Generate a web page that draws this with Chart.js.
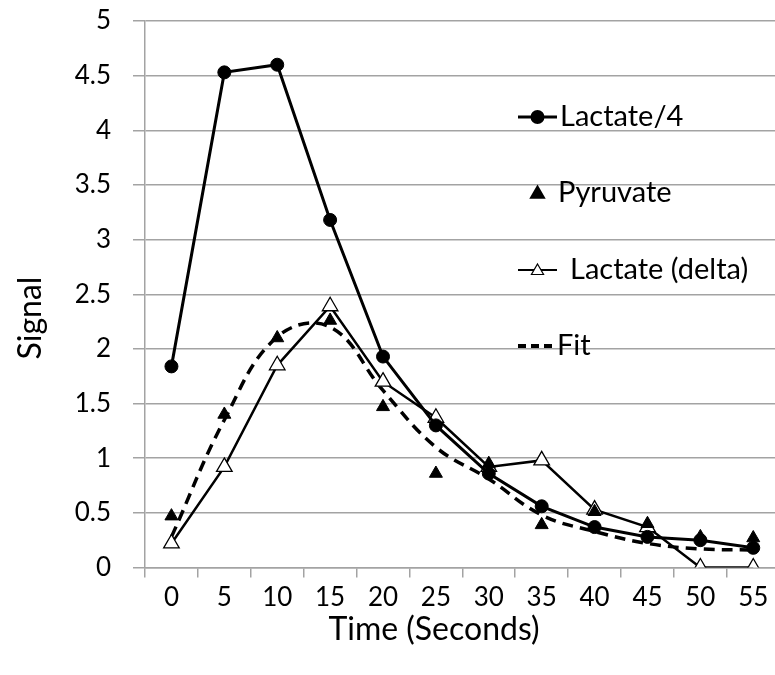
<!DOCTYPE html>
<html><head><meta charset="utf-8">
<script src="https://cdn.jsdelivr.net/npm/chart.js@4.4.1/dist/chart.umd.min.js"></script>
<style>
html,body{margin:0;padding:0;overflow:hidden;background:#fff;width:775px;height:675px}
#wrap{position:absolute;left:0;top:0;width:790px;height:675px}
</style></head><body>
<div id="wrap"><canvas id="c" width="790" height="675"></canvas></div>
<script>
const categories = ['0','5','10','15','20','25','30','35','40','45','50','55'];
const lactateQuarter = [1.84,4.53,4.60,3.18,1.93,1.30,0.86,0.56,0.37,0.28,0.25,0.18];
const pyruvate = [0.47,1.40,2.10,2.26,1.47,0.86,0.95,0.39,0.51,0.40,0.28,0.27];
const lactateDelta = [0.22,0.92,1.85,2.39,1.70,1.37,0.92,0.98,0.53,0.37,0,0];
const fit = [0.28,1.35,2.11,2.20,1.62,1.10,0.81,0.48,0.33,0.22,0.17,0.16];
const yTicks = [0,0.5,1,1.5,2,2.5,3,3.5,4,4.5,5];
const seriesNames = ['Lactate/4','Pyruvate','Lactate (delta)','Fit'];
const xTitle = 'Time (Seconds)';
const yTitle = 'Signal';

const FONT = 'Lato';
const GRID = '#a3a3a3';

const overlay = {
  id: 'overlay',
  afterDraw(chart) {
    const ctx = chart.ctx;
    const H = Chart.helpers;
    ctx.save();
    ctx.fillStyle = '#000';
    ctx.strokeStyle = '#000';
    ctx.textBaseline = 'middle';
    // axis titles
    ctx.font = '32px ' + FONT;
    ctx.textAlign = 'center';
    ctx.fillText(xTitle, 434, 630);
    ctx.save();
    ctx.translate(31, 318);
    ctx.rotate(-Math.PI / 2);
    ctx.fillText(yTitle, 0, 0);
    ctx.restore();

    // legend
    ctx.font = '29px ' + FONT;
    ctx.textAlign = 'left';
    const x0 = 518, x1 = 557, xm = 537.5;
    const ys = [117, 193, 270, 346];
    // Lactate/4
    ctx.lineWidth = 3; ctx.setLineDash([]);
    ctx.beginPath(); ctx.moveTo(x0, ys[0]); ctx.lineTo(x1, ys[0]); ctx.stroke();
    ctx.fillStyle = '#000';
    H.drawPoint(ctx, {pointStyle: 'circle', radius: 5.5, rotation: 0, borderWidth: 1}, xm, ys[0]);
    ctx.fillText(seriesNames[0], 560, ys[0]);
    // Pyruvate
    ctx.fillStyle = '#000';
    H.drawPoint(ctx, {pointStyle: 'triangle', radius: 6.5, rotation: 0, borderWidth: 1}, xm, ys[1] + 1);
    ctx.fillText(seriesNames[1], 558, ys[1]);
    // Lactate (delta)
    ctx.lineWidth = 2;
    ctx.beginPath(); ctx.moveTo(x0, ys[2]); ctx.lineTo(x1, ys[2]); ctx.stroke();
    ctx.fillStyle = '#fff'; ctx.lineWidth = 1.2;
    H.drawPoint(ctx, {pointStyle: 'triangle', radius: 7, rotation: 0, borderWidth: 1.2}, xm, ys[2] + 1);
    ctx.fillStyle = '#000';
    ctx.fillText(seriesNames[2], 570, ys[2]);
    // Fit
    ctx.lineWidth = 4; ctx.setLineDash([8, 5]);
    ctx.beginPath(); ctx.moveTo(x0, ys[3]); ctx.lineTo(x1 - 1, ys[3]); ctx.stroke();
    ctx.setLineDash([]);
    ctx.fillText(seriesNames[3], 557, ys[3]);
    ctx.restore();
  }
};

new Chart(document.getElementById('c'), {
  type: 'line',
  data: {
    labels: categories,
    datasets: [
      {label: seriesNames[0], data: lactateQuarter, borderColor: '#000', backgroundColor: '#000',
       borderWidth: 3, pointStyle: 'circle', pointRadius: 6.5, pointBorderWidth: 1, tension: 0, order: 0},
      {label: seriesNames[1], data: pyruvate, showLine: false, borderColor: '#000', backgroundColor: '#000',
       pointStyle: 'triangle', pointRadius: 7.5, pointBorderWidth: 1, order: 1},
      {label: seriesNames[2], data: lactateDelta, borderColor: '#000', backgroundColor: '#fff',
       borderWidth: 2.5, pointStyle: 'triangle', pointRadius: 9, pointBorderWidth: 1.3, tension: 0, order: 2},
      {label: seriesNames[3], data: fit, borderColor: '#000', borderWidth: 3.5, borderDash: [11, 7],
       pointRadius: 0, tension: 0.4, order: 3}
    ]
  },
  options: {
    responsive: false,
    animation: false,
    events: [],
    layout: {padding: {top: 21, right: 8, bottom: 0, left: 0}},
    plugins: {legend: {display: false}, tooltip: {enabled: false}, title: {display: false}},
    scales: {
      x: {
        type: 'category', offset: true,
        grid: {offset: true, drawOnChartArea: false, drawTicks: true, tickLength: 10, color: GRID, lineWidth: 1.5},
        border: {color: GRID, width: 1.5},
        ticks: {font: {family: FONT, size: 26}, color: '#000', padding: 5, maxRotation: 0, autoSkip: false},
        afterFit(s) { s.height = 107.5; s.paddingLeft = 0; s.paddingRight = 0; }
      },
      y: {
        min: 0, max: 5,
        afterBuildTicks(s) { s.ticks = yTicks.map(v => ({value: v})); },
        grid: {color: GRID, lineWidth: 1.5, tickLength: 12},
        border: {color: GRID, width: 1.5},
        ticks: {font: {family: FONT, size: 26}, color: '#000', padding: 22, callback: v => String(v)},
        afterFit(s) { s.width = 145; s.paddingTop = 0; s.paddingBottom = 0; }
      }
    }
  },
  plugins: [overlay]
});
</script>
</body></html>
